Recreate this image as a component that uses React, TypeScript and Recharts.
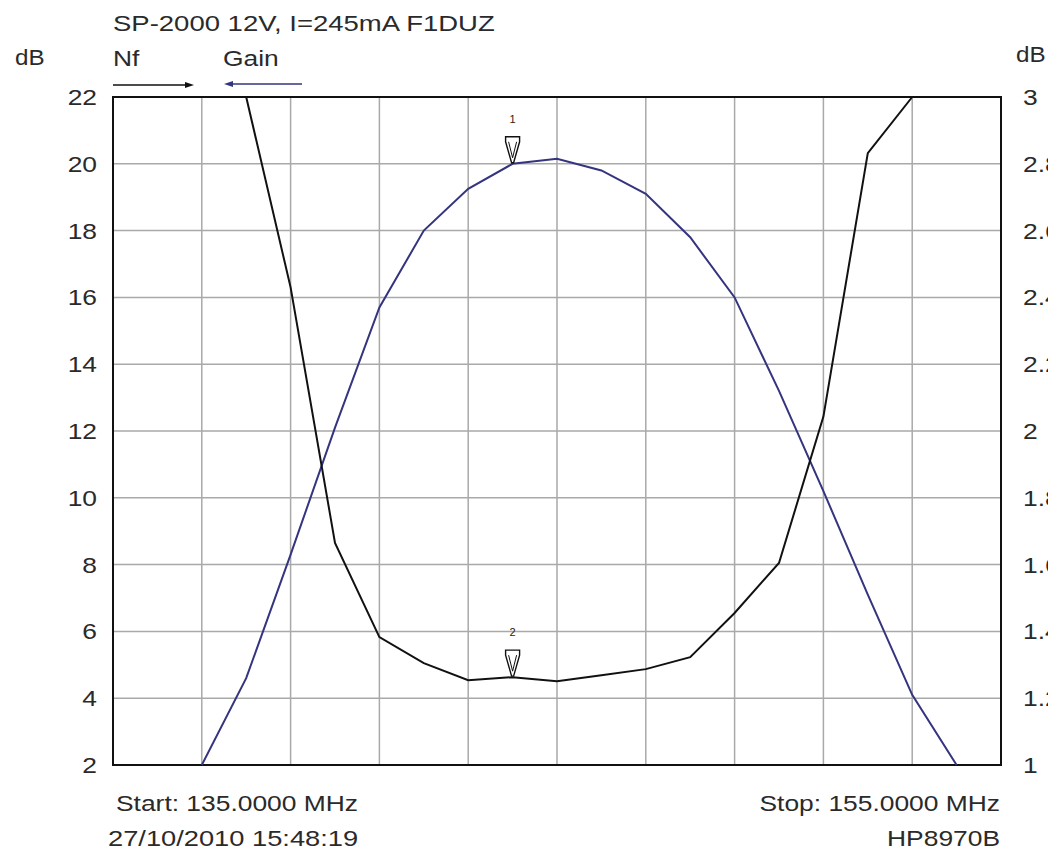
import React from "react";
import { LineChart, Line, XAxis, YAxis, CartesianGrid, ReferenceDot, ReferenceArea } from "recharts";

// frequency points (MHz), one per MHz
const freqs = [137, 138, 139, 140, 141, 142, 143, 144, 145, 146, 147, 148, 149, 150, 151, 152, 153, 154];
// gain, left axis (dB)
const gainDb = [2.0, 4.6, 8.3, 12.1, 15.7, 18.0, 19.25, 20.0, 20.15, 19.8, 19.1, 17.8, 16.0, 13.2, 10.2, 7.1, 4.1, 2.0];
// noise figure, right axis (dB)
const nfDb = [null, 3.0, 2.43, 1.665, 1.383, 1.305, 1.254, 1.263, 1.251, 1.269, 1.287, 1.323, 1.455, 1.605, 2.043, 2.832, 3.0, null];

const xTicks = [135, 137, 139, 141, 143, 145, 147, 149, 151, 153, 155];
const leftTicks = [2, 4, 6, 8, 10, 12, 14, 16, 18, 20, 22];
const rightTicks = [1, 1.2, 1.4, 1.6, 1.8, 2, 2.2, 2.4, 2.6, 2.8, 3];
const markerFreq = 144;

const data = freqs.map((f, i) => ({ f, gain: gainDb[i], nf: nfDb[i] }));

const FONT = "'Liberation Sans', Arial, sans-serif";
const INK = "#2a2a2a";
const NAVY = "#34347f";

function T({ x, y, anchor = "start", size = 22, sx = 1.2, fill = INK, children }: any) {
  return (
    <text
      transform={`translate(${x},${y}) scale(${sx},1)`}
      textAnchor={anchor}
      fontSize={size}
      fontFamily={FONT}
      fill={fill}
    >
      {children}
    </text>
  );
}

function LeftTick(props: any) {
  const { x, y, payload } = props;
  return (
    <T x={x} y={y + 8} anchor="end">
      {String(payload.value)}
    </T>
  );
}

function RightTick(props: any) {
  const { x, y, payload } = props;
  return (
    <T x={x} y={y + 8} anchor="start">
      {String(payload.value)}
    </T>
  );
}

function Marker(props: any) {
  const { cx, cy, num } = props;
  const pts = [
    [cx - 7, cy - 27],
    [cx + 7, cy - 27],
    [cx + 7, cy - 22],
    [cx + 1, cy - 1],
    [cx - 1, cy - 1],
    [cx - 7, cy - 22],
  ]
    .map((p) => p.join(","))
    .join(" ");
  return (
    <g>
      <polygon points={pts} fill="#fff" stroke="#111" strokeWidth={1.4} />
      <polyline
        points={`${cx - 4},${cy - 22} ${cx},${cy - 6} ${cx + 4},${cy - 22}`}
        fill="none"
        stroke="#111"
        strokeWidth={1}
      />
      <text x={cx} y={cy - 41} textAnchor="middle" fontSize={11} fontFamily={FONT} fill="#222">
        {num}
      </text>
    </g>
  );
}

export default function App() {
  const mi = freqs.indexOf(markerFreq);
  return (
    <div
      style={{
        position: "absolute",
        left: 0,
        top: 0,
        width: 1048,
        height: 854,
        background: "#fff",
        overflow: "hidden",
      }}
    >
      <LineChart width={1048} height={854} data={data} margin={{ top: 97, right: 0, bottom: 89, left: 0 }}>
        <XAxis dataKey="f" type="number" domain={[135, 155]} ticks={xTicks} interval={0} hide />
        <YAxis
          yAxisId="left"
          domain={[2, 22]}
          ticks={leftTicks}
          interval={0}
          width={113}
          axisLine={false}
          tickLine={false}
          tickSize={0}
          tickMargin={16}
          tick={LeftTick}
        />
        <YAxis
          yAxisId="right"
          orientation="right"
          domain={[1, 3]}
          ticks={rightTicks}
          interval={0}
          width={47}
          axisLine={false}
          tickLine={false}
          tickSize={0}
          tickMargin={22}
          tick={RightTick}
        />
        <CartesianGrid yAxisId="left" stroke="#a9a9a9" strokeWidth={1.5} />
        <Line
          yAxisId="left"
          type="linear"
          dataKey="gain"
          stroke={NAVY}
          strokeWidth={2}
          dot={false}
          isAnimationActive={false}
        />
        <Line
          yAxisId="right"
          type="linear"
          dataKey="nf"
          stroke="#111"
          strokeWidth={2}
          dot={false}
          isAnimationActive={false}
        />
        <ReferenceArea
          yAxisId="left"
          x1={135}
          x2={155}
          y1={2}
          y2={22}
          fill="none"
          fillOpacity={0}
          stroke="#111"
          strokeWidth={2}
        />
        <ReferenceDot
          yAxisId="left"
          x={markerFreq}
          y={gainDb[mi]}
          shape={(p: any) => <Marker {...p} num="1" />}
        />
        <ReferenceDot
          yAxisId="right"
          x={markerFreq}
          y={nfDb[mi] as number}
          shape={(p: any) => <Marker {...p} num="2" />}
        />
      </LineChart>
      <svg
        width={1048}
        height={854}
        style={{ position: "absolute", left: 0, top: 0, pointerEvents: "none" }}
      >
        <T x={113} y={31} sx={1.25}>SP-2000 12V, I=245mA F1DUZ</T>
        <T x={15} y={65} sx={1.1}>dB</T>
        <T x={1016} y={62} sx={1.1}>dB</T>
        <T x={113} y={66}>Nf</T>
        <T x={223} y={66}>Gain</T>
        <line x1={113} y1={85} x2={190} y2={85} stroke="#111" strokeWidth={1.5} />
        <polygon points="194,85 185,82 185,88" fill="#111" />
        <line x1={228} y1={84} x2={302} y2={84} stroke={NAVY} strokeWidth={1.5} />
        <polygon points="224,84 233,81 233,87" fill={NAVY} />
        <T x={116} y={811}>Start: 135.0000 MHz</T>
        <T x={108} y={846} sx={1.24}>27/10/2010 15:48:19</T>
        <T x={1000} y={811} anchor="end">Stop: 155.0000 MHz</T>
        <T x={1000} y={846} anchor="end">HP8970B</T>
      </svg>
    </div>
  );
}
